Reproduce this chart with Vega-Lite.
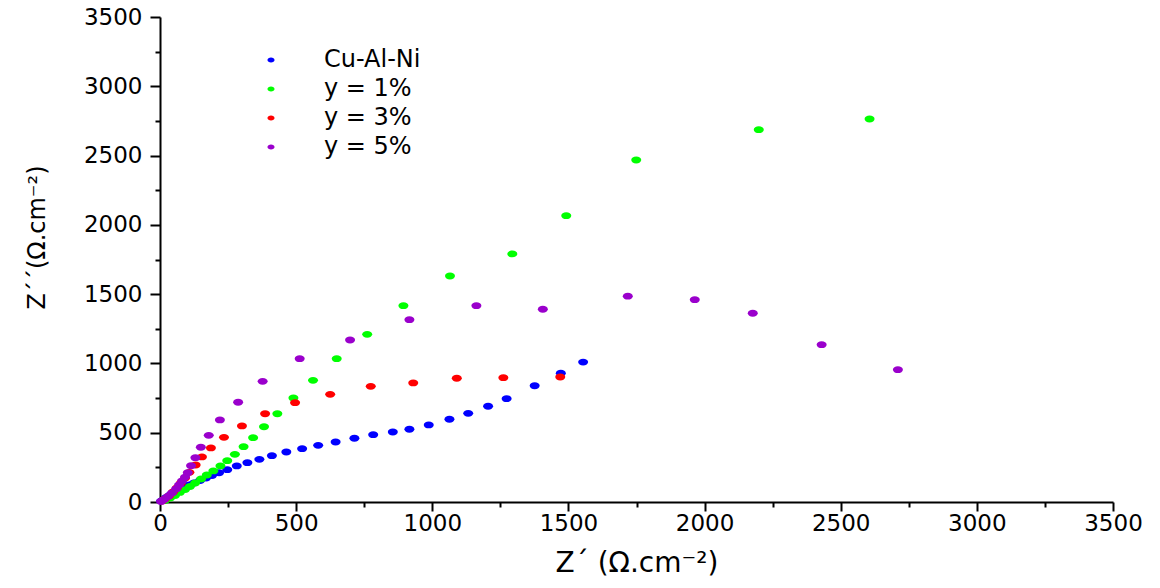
{
  "$schema": "https://vega.github.io/schema/vega-lite/v6.json",
  "autosize": "none",
  "width": 953,
  "height": 485,
  "padding": {"left": 160, "top": 17, "right": 47, "bottom": 86},
  "background": "white",
  "config": {
    "view": {"stroke": null},
    "font": "DejaVu Sans"
  },
  "data": {
    "values": [
      {"s": "Cu-Al-Ni", "zr": 4, "zi": 7},
      {"s": "Cu-Al-Ni", "zr": 11, "zi": 14},
      {"s": "Cu-Al-Ni", "zr": 22, "zi": 32},
      {"s": "Cu-Al-Ni", "zr": 37, "zi": 51},
      {"s": "Cu-Al-Ni", "zr": 51, "zi": 69},
      {"s": "Cu-Al-Ni", "zr": 70, "zi": 87},
      {"s": "Cu-Al-Ni", "zr": 88, "zi": 105},
      {"s": "Cu-Al-Ni", "zr": 107, "zi": 123},
      {"s": "Cu-Al-Ni", "zr": 125, "zi": 137},
      {"s": "Cu-Al-Ni", "zr": 147, "zi": 155},
      {"s": "Cu-Al-Ni", "zr": 169, "zi": 173},
      {"s": "Cu-Al-Ni", "zr": 191, "zi": 191},
      {"s": "Cu-Al-Ni", "zr": 217, "zi": 211},
      {"s": "Cu-Al-Ni", "zr": 247, "zi": 233},
      {"s": "Cu-Al-Ni", "zr": 282, "zi": 260},
      {"s": "Cu-Al-Ni", "zr": 321, "zi": 284},
      {"s": "Cu-Al-Ni", "zr": 365, "zi": 308},
      {"s": "Cu-Al-Ni", "zr": 411, "zi": 334},
      {"s": "Cu-Al-Ni", "zr": 464, "zi": 361},
      {"s": "Cu-Al-Ni", "zr": 522, "zi": 385},
      {"s": "Cu-Al-Ni", "zr": 581, "zi": 409},
      {"s": "Cu-Al-Ni", "zr": 645, "zi": 433},
      {"s": "Cu-Al-Ni", "zr": 714, "zi": 460},
      {"s": "Cu-Al-Ni", "zr": 783, "zi": 486},
      {"s": "Cu-Al-Ni", "zr": 855, "zi": 505},
      {"s": "Cu-Al-Ni", "zr": 916, "zi": 525},
      {"s": "Cu-Al-Ni", "zr": 987, "zi": 556},
      {"s": "Cu-Al-Ni", "zr": 1063, "zi": 597},
      {"s": "Cu-Al-Ni", "zr": 1132, "zi": 640},
      {"s": "Cu-Al-Ni", "zr": 1205, "zi": 691},
      {"s": "Cu-Al-Ni", "zr": 1273, "zi": 746},
      {"s": "Cu-Al-Ni", "zr": 1376, "zi": 839},
      {"s": "Cu-Al-Ni", "zr": 1472, "zi": 929},
      {"s": "Cu-Al-Ni", "zr": 1554, "zi": 1010},
      {"s": "y = 1%", "zr": 18, "zi": 11},
      {"s": "y = 1%", "zr": 37, "zi": 29},
      {"s": "y = 1%", "zr": 55, "zi": 47},
      {"s": "y = 1%", "zr": 73, "zi": 69},
      {"s": "y = 1%", "zr": 92, "zi": 90},
      {"s": "y = 1%", "zr": 110, "zi": 112},
      {"s": "y = 1%", "zr": 129, "zi": 137},
      {"s": "y = 1%", "zr": 151, "zi": 166},
      {"s": "y = 1%", "zr": 172, "zi": 195},
      {"s": "y = 1%", "zr": 196, "zi": 224},
      {"s": "y = 1%", "zr": 222, "zi": 260},
      {"s": "y = 1%", "zr": 247, "zi": 298},
      {"s": "y = 1%", "zr": 275, "zi": 344},
      {"s": "y = 1%", "zr": 307, "zi": 399},
      {"s": "y = 1%", "zr": 342, "zi": 464},
      {"s": "y = 1%", "zr": 382, "zi": 543},
      {"s": "y = 1%", "zr": 431, "zi": 637},
      {"s": "y = 1%", "zr": 490, "zi": 751},
      {"s": "y = 1%", "zr": 562, "zi": 878},
      {"s": "y = 1%", "zr": 649, "zi": 1034},
      {"s": "y = 1%", "zr": 761, "zi": 1210},
      {"s": "y = 1%", "zr": 894, "zi": 1417},
      {"s": "y = 1%", "zr": 1065, "zi": 1631},
      {"s": "y = 1%", "zr": 1294, "zi": 1790},
      {"s": "y = 1%", "zr": 1492, "zi": 2066},
      {"s": "y = 1%", "zr": 1749, "zi": 2468},
      {"s": "y = 1%", "zr": 2199, "zi": 2687},
      {"s": "y = 1%", "zr": 2606, "zi": 2764},
      {"s": "y = 3%", "zr": 7, "zi": 7},
      {"s": "y = 3%", "zr": 18, "zi": 22},
      {"s": "y = 3%", "zr": 33, "zi": 43},
      {"s": "y = 3%", "zr": 48, "zi": 72},
      {"s": "y = 3%", "zr": 62, "zi": 101},
      {"s": "y = 3%", "zr": 77, "zi": 137},
      {"s": "y = 3%", "zr": 92, "zi": 173},
      {"s": "y = 3%", "zr": 108, "zi": 214},
      {"s": "y = 3%", "zr": 131, "zi": 267},
      {"s": "y = 3%", "zr": 154, "zi": 325},
      {"s": "y = 3%", "zr": 187, "zi": 390},
      {"s": "y = 3%", "zr": 235, "zi": 467},
      {"s": "y = 3%", "zr": 301, "zi": 549},
      {"s": "y = 3%", "zr": 386, "zi": 637},
      {"s": "y = 3%", "zr": 496, "zi": 717},
      {"s": "y = 3%", "zr": 625, "zi": 777},
      {"s": "y = 3%", "zr": 774, "zi": 835},
      {"s": "y = 3%", "zr": 930, "zi": 859},
      {"s": "y = 3%", "zr": 1090, "zi": 893},
      {"s": "y = 3%", "zr": 1261, "zi": 897},
      {"s": "y = 3%", "zr": 1470, "zi": 902},
      {"s": "y = 5%", "zr": 4, "zi": 4},
      {"s": "y = 5%", "zr": 15, "zi": 18},
      {"s": "y = 5%", "zr": 29, "zi": 40},
      {"s": "y = 5%", "zr": 44, "zi": 65},
      {"s": "y = 5%", "zr": 59, "zi": 94},
      {"s": "y = 5%", "zr": 70, "zi": 123},
      {"s": "y = 5%", "zr": 81, "zi": 152},
      {"s": "y = 5%", "zr": 92, "zi": 180},
      {"s": "y = 5%", "zr": 102, "zi": 211},
      {"s": "y = 5%", "zr": 114, "zi": 262},
      {"s": "y = 5%", "zr": 130, "zi": 320},
      {"s": "y = 5%", "zr": 150, "zi": 395},
      {"s": "y = 5%", "zr": 179, "zi": 481},
      {"s": "y = 5%", "zr": 220, "zi": 592},
      {"s": "y = 5%", "zr": 287, "zi": 720},
      {"s": "y = 5%", "zr": 377, "zi": 871},
      {"s": "y = 5%", "zr": 513, "zi": 1034},
      {"s": "y = 5%", "zr": 698, "zi": 1169},
      {"s": "y = 5%", "zr": 916, "zi": 1316},
      {"s": "y = 5%", "zr": 1162, "zi": 1417},
      {"s": "y = 5%", "zr": 1406, "zi": 1391},
      {"s": "y = 5%", "zr": 1718, "zi": 1485},
      {"s": "y = 5%", "zr": 1964, "zi": 1460},
      {"s": "y = 5%", "zr": 2177, "zi": 1362},
      {"s": "y = 5%", "zr": 2430, "zi": 1135},
      {"s": "y = 5%", "zr": 2710, "zi": 955}
    ]
  },
  "mark": {
    "type": "point",
    "filled": true,
    "opacity": 1,
    "strokeWidth": 0,
    "size": 100,
    "shape": "M-1,0A1,0.68 0 1,0 1,0A1,0.68 0 1,0 -1,0Z"
  },
  "encoding": {
    "x": {
      "field": "zr",
      "type": "quantitative",
      "scale": {"domain": [0, 3500], "nice": false, "zero": false},
      "axis": {
        "title": "Z´ (Ω.cm⁻²)",
        "titleFont": "DejaVu Sans",
        "titleFontSize": 28,
        "titleFontWeight": "normal",
        "titleColor": "black",
        "titlePadding": 14,
        "values": [0, 250, 500, 750, 1000, 1250, 1500, 1750, 2000, 2250, 2500, 2750, 3000, 3250, 3500],
        "labelExpr": "datum.value % 500 === 0 ? datum.label : ''",
        "format": "d",
        "labelFont": "DejaVu Sans",
        "labelFontSize": 23,
        "labelColor": "black",
        "labelPadding": 1,
        "labelFlush": false,
        "labelOverlap": false,
        "grid": false,
        "domainColor": "black",
        "domainWidth": 2,
        "tickColor": "black",
        "tickWidth": 2,
        "tickSize": {"condition": {"test": "datum.value % 500 === 0", "value": 9}, "value": 5}
      }
    },
    "y": {
      "field": "zi",
      "type": "quantitative",
      "scale": {"domain": [0, 3500], "nice": false, "zero": false},
      "axis": {
        "title": "Z´´(Ω.cm⁻²)",
        "titleFont": "DejaVu Sans",
        "titleFontSize": 24,
        "titleFontWeight": "normal",
        "titleColor": "black",
        "titlePadding": 34,
        "titleY": 220,
        "values": [0, 250, 500, 750, 1000, 1250, 1500, 1750, 2000, 2250, 2500, 2750, 3000, 3250, 3500],
        "labelExpr": "datum.value % 500 === 0 ? datum.label : ''",
        "format": "d",
        "labelFont": "DejaVu Sans",
        "labelFontSize": 23,
        "labelColor": "black",
        "labelPadding": 8,
        "labelFlush": false,
        "labelOverlap": false,
        "grid": false,
        "domainColor": "black",
        "domainWidth": 2,
        "tickColor": "black",
        "tickWidth": 2,
        "tickSize": {"condition": {"test": "datum.value % 500 === 0", "value": 10}, "value": 5}
      }
    },
    "color": {
      "field": "s",
      "type": "nominal",
      "scale": {
        "domain": ["Cu-Al-Ni", "y = 1%", "y = 3%", "y = 5%"],
        "range": ["#0000FF", "#00FF00", "#FF0000", "#9A00CC"]
      },
      "legend": {
        "title": null,
        "orient": "none",
        "legendX": 99,
        "legendY": 31,
        "padding": 0,
        "symbolType": "M-1,0A1,0.68 0 1,0 1,0A1,0.68 0 1,0 -1,0Z",
        "symbolSize": 50,
        "symbolStrokeWidth": 0,
        "labelFont": "DejaVu Sans",
        "labelFontSize": 24,
        "labelColor": "black",
        "labelOffset": 41,
        "rowPadding": 5
      }
    }
  }
}
